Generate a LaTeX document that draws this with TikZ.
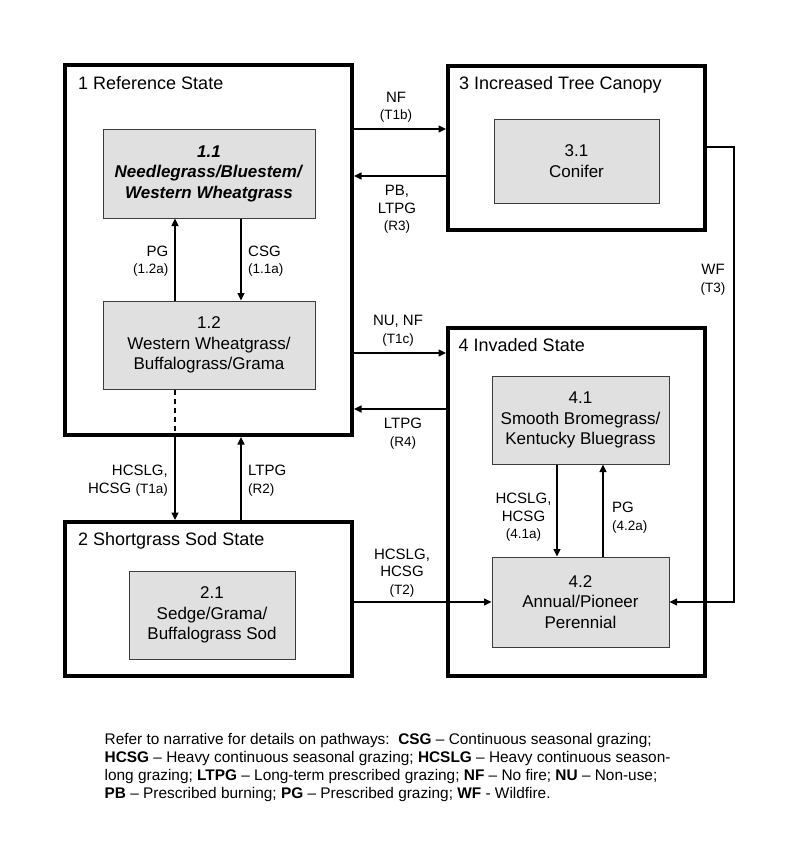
\documentclass[tikz,border=0pt]{standalone}
\usepackage{fontspec}
\setmainfont{Liberation Sans}
\usetikzlibrary{arrows.meta}
\definecolor{boxgray}{RGB}{224,224,224}
\definecolor{edgegray}{RGB}{60,60,60}
\begin{document}
\begin{tikzpicture}[x=1pt,y=-1pt,
  statebox/.style={draw=black, line width=4pt, inner sep=0pt, fill=white},
  phasebox/.style={draw=edgegray, line width=1pt, fill=boxgray, inner sep=0pt, align=center,
    font=\fontsize{17}{20.5}\selectfont},
  title/.style={anchor=base west, inner sep=0pt, font=\fontsize{18}{21}\selectfont},
  lab/.style={inner sep=0pt, font=\fontsize{15}{17.5}\selectfont},
  arr/.style={line width=1.1pt, -{Triangle[length=7.5pt,width=7pt]}},
  plain/.style={line width=1.1pt},
  foot/.style={anchor=base west, inner sep=0pt, font=\fontsize{15.4}{18}\selectfont}]
\newcommand{\sm}[1]{{\fontsize{13.5}{17.5}\selectfont #1}}
\useasboundingbox[fill=white] (0,0) rectangle (800,849);

% state boxes
\node[statebox, minimum width=287pt, minimum height=370pt] (s1) at (208.5,250) {};
\node[statebox, minimum width=257pt, minimum height=164pt] (s3) at (576.5,148) {};
\node[statebox, minimum width=257pt, minimum height=348pt] (s4) at (576.5,502) {};
\node[statebox, minimum width=287pt, minimum height=154pt] (s2) at (208.5,599) {};

% titles
\node[title] (t1) at (78,89.5) {1 Reference State};
\node[title] (t3) at (459,89.5) {3 Increased Tree Canopy};
\node[title] (t4) at (458.5,351) {4 Invaded State};
\node[title] (t2) at (78,545.5) {2 Shortgrass Sod State};

% community phase boxes
\node[phasebox, minimum width=212pt, minimum height=89pt] (n11) at (209,173.5)
  {\textbf{\textit{1.1}}\\\textbf{\textit{Needlegrass/Bluestem/}}\\\textbf{\textit{Western Wheatgrass}}};
\node[phasebox, minimum width=212pt, minimum height=88pt] (n12) at (209,345)
  {1.2\\Western Wheatgrass/\\Buffalograss/Grama};
\node[phasebox, minimum width=166pt, minimum height=88pt] (n21) at (212,615)
  {2.1\\Sedge/Grama/\\Buffalograss Sod};
\node[phasebox, minimum width=165pt, minimum height=84pt] (n31) at (576.5,161)
  {3.1\\Conifer};
\node[phasebox, minimum width=177pt, minimum height=88pt] (n41) at (580.5,420)
  {4.1\\Smooth Bromegrass/\\Kentucky Bluegrass};
\node[phasebox, minimum width=177pt, minimum height=90pt] (n42) at (580.5,602)
  {4.2\\Annual/Pioneer\\Perennial};

\coordinate (wfx) at (734,0);

% transitions between states
\draw[arr] (s1.east |- 0,129) -- (s3.west |- 0,129);
\draw[arr] (s3.west |- 0,176) -- (s1.east |- 0,176);
\draw[arr] (s1.east |- 0,353) -- (s4.west |- 0,353);
\draw[arr] (s4.west |- 0,409) -- (s1.east |- 0,409);
\draw[arr] (s3.east |- 0,147) -| (wfx |- n42.east) -- (n42.east);
\draw[arr] (s2.east |- n42.west) -- (n42.west);
\draw[plain, dashed, dash pattern=on 5pt off 4pt] (n12.south -| 175,0) -- (s1.south -| 175,0);
\draw[arr] (s1.south -| 175,0) -- (s2.north -| 175,0);
\draw[arr] (s2.north -| 241,0) -- (s1.south -| 241,0);

% pathways within states
\draw[arr] (n12.north -| 175,0) -- (n11.south -| 175,0);
\draw[arr] (n11.south -| 241,0) -- (n12.north -| 241,0);
\draw[arr] (n41.south -| 557,0) -- (n42.north -| 557,0);
\draw[arr] (n42.north -| 603,0) -- (n41.south -| 603,0);

% labels
\node[lab, align=center] (l1) at (396,107) {NF\\\sm{(T1b)}};
\node[lab, align=center] (l2) at (397,209.5) {PB,\\LTPG\\\sm{(R3)}};
\node[lab, align=center] (l3) at (398,330.5) {NU, NF\\\sm{(T1c)}};
\node[lab, align=center] (l4) at (403,433.5) {LTPG\\\sm{(R4)}};
\node[lab, align=center] (l5) at (713,279.5) {WF\\\sm{(T3)}};
\node[lab, align=right, anchor=east] (l6) at (168.5,261) {PG\\\sm{(1.2a)}};
\node[lab, align=left, anchor=west] (l7) at (248,261) {CSG\\\sm{(1.1a)}};
\node[lab, align=right, anchor=east] (l8) at (168,480.5) {HCSLG,\\HCSG \sm{(T1a)}};
\node[lab, align=left, anchor=west] (l9) at (248,480.5) {LTPG\\\sm{(R2)}};
\node[lab, align=center] (l10) at (402,573) {HCSLG,\\HCSG\\\sm{(T2)}};
\node[lab, align=center] (l11) at (523.5,517.5) {HCSLG,\\HCSG\\\sm{(4.1a)}};
\node[lab, align=left, anchor=west] (l12) at (612,517.5) {PG\\\sm{(4.2a)}};

% footnote
\node[foot] (f1) at (104.5,744) {Refer to narrative for details on pathways:\ \ \textbf{CSG} -- Continuous seasonal grazing;};
\node[foot] (f2) at (104.5,762) {\textbf{HCSG} -- Heavy continuous seasonal grazing; \textbf{HCSLG} -- Heavy continuous season-};
\node[foot] (f3) at (104.5,780) {long grazing; \textbf{LTPG} -- Long-term prescribed grazing; \textbf{NF} -- No fire; \textbf{NU} -- Non-use;};
\node[foot] (f4) at (104.5,798) {\textbf{PB} -- Prescribed burning; \textbf{PG} -- Prescribed grazing; \textbf{WF} - Wildfire.};
\end{tikzpicture}
\end{document}
